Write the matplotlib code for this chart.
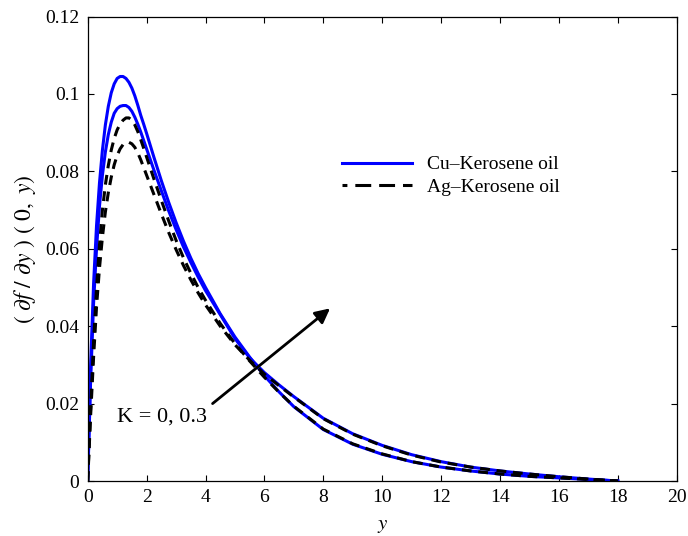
import matplotlib
matplotlib.use("Agg")
from matplotlib import pyplot as plt

# values
y_vals = [0, 0.1, 0.2, 0.3, 0.4, 0.5, 0.6, 0.7, 0.8, 0.9, 1.0, 1.1, 1.2, 1.3,
          1.4, 1.5, 1.6, 1.7, 1.8, 1.9, 2.0, 2.25, 2.5, 2.75, 3.0, 3.25, 3.5,
          3.75, 4.0, 4.5, 5.0, 5.5, 6.0, 6.5, 7.0, 8, 9, 10, 11, 12, 13, 14,
          15, 16, 17, 18]

cu_k1 = [0.0, 0.030, 0.051, 0.066, 0.077, 0.0855, 0.0920, 0.0968, 0.1003, 0.1026,
         0.1040, 0.1045, 0.1045, 0.1040, 0.1030, 0.1015, 0.0995, 0.0971, 0.0945,
         0.0922, 0.0898, 0.0836, 0.0776, 0.0720, 0.0668, 0.0620, 0.0576, 0.0536,
         0.0500, 0.0432, 0.0372, 0.0320, 0.0272, 0.0230, 0.0192, 0.0133, 0.0095,
         0.0069, 0.0050, 0.0036, 0.0026, 0.0018, 0.0012, 0.0008, 0.0004, 0.0]
cu_k2 = [0.0, 0.026, 0.046, 0.060, 0.071, 0.0790, 0.0850, 0.0895, 0.0927, 0.0950,
         0.0962, 0.0968, 0.0970, 0.0970, 0.0965, 0.0955, 0.0940, 0.0922, 0.0902,
         0.0880, 0.0858, 0.0803, 0.0750, 0.0698, 0.0650, 0.0605, 0.0565, 0.0527,
         0.0492, 0.0430, 0.0368, 0.0318, 0.0280, 0.0248, 0.0218, 0.0162, 0.0122,
         0.0092, 0.0068, 0.0050, 0.0036, 0.0026, 0.0018, 0.0011, 0.0005, 0.0]
ag_k1 = [0.0, 0.019, 0.036, 0.050, 0.061, 0.0700, 0.0765, 0.0815, 0.0855, 0.0885,
         0.0907, 0.0922, 0.0932, 0.0938, 0.0938, 0.0932, 0.0920, 0.0903, 0.0882,
         0.0860, 0.0837, 0.0780, 0.0725, 0.0672, 0.0622, 0.0577, 0.0537, 0.0500,
         0.0467, 0.0407, 0.0355, 0.0310, 0.0268, 0.0229, 0.0193, 0.0134, 0.0096,
         0.0070, 0.0050, 0.0036, 0.0026, 0.0018, 0.0012, 0.0008, 0.0004, 0.0]
ag_k2 = [0.0, 0.017, 0.032, 0.045, 0.055, 0.0630, 0.0695, 0.0745, 0.0785, 0.0817,
         0.0841, 0.0858, 0.0869, 0.0874, 0.0875, 0.0871, 0.0862, 0.0848, 0.0830,
         0.0810, 0.0790, 0.0740, 0.0690, 0.0642, 0.0598, 0.0557, 0.0520, 0.0486,
         0.0455, 0.0400, 0.0352, 0.0312, 0.0276, 0.0246, 0.0217, 0.0161, 0.0121,
         0.0091, 0.0067, 0.0049, 0.0036, 0.0026, 0.0018, 0.0011, 0.0005, 0.0]

x_ticks = list(range(0, 21, 2))
y_ticks = [0, 0.02, 0.04, 0.06, 0.08, 0.1, 0.12]
y_tick_labels = ["0", "0.02", "0.04", "0.06", "0.08", "0.1", "0.12"]

plt.rcParams["font.family"] = ["Liberation Serif", "DejaVu Serif"]
plt.rcParams["mathtext.fontset"] = "stix"

fig = plt.figure(figsize=(6.88, 5.36), dpi=100)
ax = fig.add_axes([87.7 / 688, 55 / 536, 589 / 688, 464.5 / 536])

dash = (0, (3.2, 2.2))
ax.plot(y_vals, cu_k1, color="blue", lw=2.2, label="Cu\u2013Kerosene oil")
ax.plot(y_vals, cu_k2, color="blue", lw=2.2)
ax.plot(y_vals, ag_k1, color="black", lw=2.2, ls=dash, label="Ag\u2013Kerosene oil")
ax.plot(y_vals, ag_k2, color="black", lw=2.2, ls=dash)

ax.set_xlim(0, 20)
ax.set_ylim(0, 0.12)
ax.set_xticks(x_ticks)
ax.set_yticks(y_ticks)
ax.set_yticklabels(y_tick_labels)
ax.tick_params(direction="in", length=4, width=0.8, top=True, right=True,
               labelsize=14, pad=6)
for s in ax.spines.values():
    s.set_linewidth(0.9)

ax.set_xlabel(r"$y$", fontsize=15, labelpad=7)
ax.set_ylabel(r"$(\ \partial f\ /\ \partial y\ )\ (\ 0,\ y)$", fontsize=17, labelpad=5)

leg = ax.legend(loc="upper left", bbox_to_anchor=(0.431, 0.70), frameon=False,
                fontsize=14, handlelength=3.6, handletextpad=0.8, labelspacing=0.25,
                borderpad=0, borderaxespad=0)
# legend sample in the reference uses longer dashes than the curves
leg.get_lines()[1].set_linestyle((3.6, (5.2, 2.6)))

ax.annotate("", xy=(8.23, 0.0446), xytext=(4.24, 0.020),
            arrowprops=dict(arrowstyle="-|>", color="black", lw=2,
                            mutation_scale=22, shrinkA=0, shrinkB=0))
ax.text(1.0, 0.0165, "K = 0, 0.3", fontsize=16, va="center", ha="left")

fig.savefig("out.png", dpi=100)
